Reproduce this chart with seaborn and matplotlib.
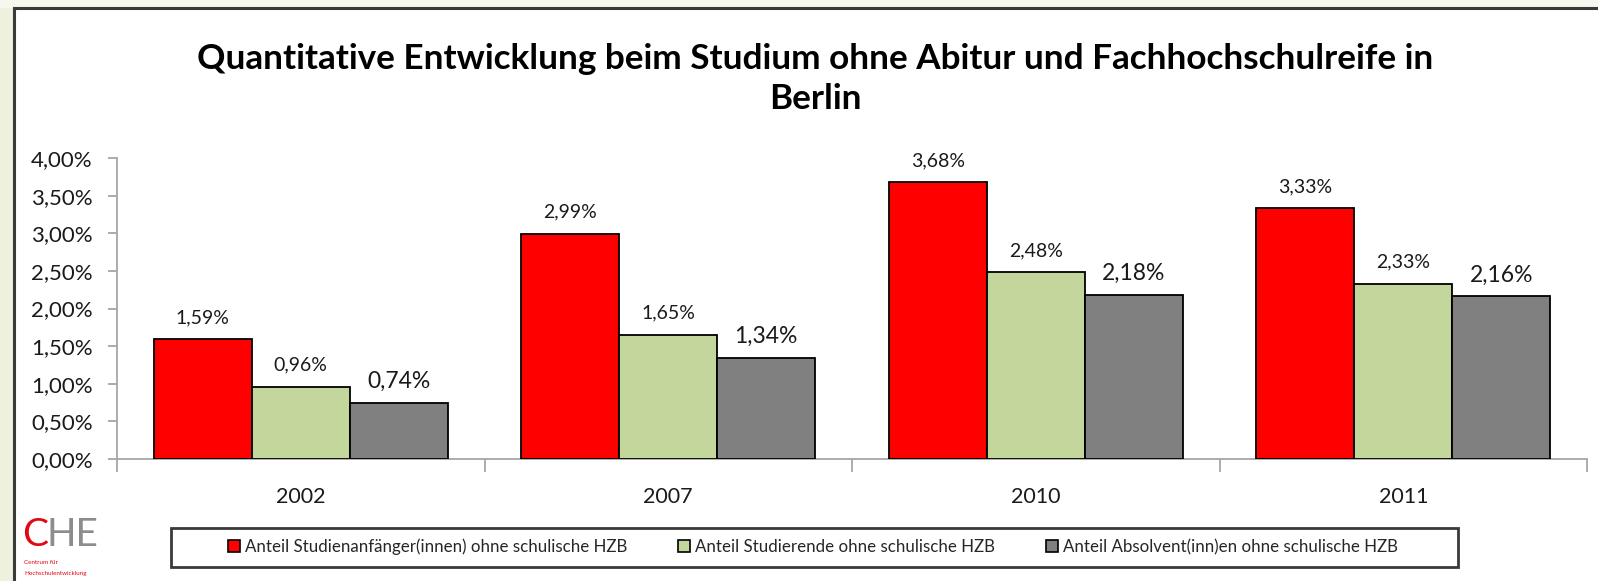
import matplotlib
matplotlib.use("Agg")
import matplotlib.pyplot as plt
import matplotlib.patches as mpatches
from matplotlib.ticker import FuncFormatter, MultipleLocator, FixedLocator
import seaborn as sns
import pandas as pd

# ---- data ----
years = ["2002", "2007", "2010", "2011"]
series = [
    "Anteil Studienanfänger(innen) ohne schulische HZB",
    "Anteil Studierende ohne schulische HZB",
    "Anteil Absolvent(inn)en ohne schulische HZB",
]
anfaenger = [1.59, 2.99, 3.68, 3.33]
studierende = [0.96, 1.65, 2.48, 2.33]
absolventen = [0.74, 1.34, 2.18, 2.16]
colors = ["#FF0000", "#C3D69B", "#808080"]
title = "Quantitative Entwicklung beim Studium ohne Abitur und Fachhochschulreife in\nBerlin"

df = pd.DataFrame({
    "Jahr": years * 3,
    "Serie": [series[0]] * 4 + [series[1]] * 4 + [series[2]] * 4,
    "Wert": anfaenger + studierende + absolventen,
})

sns.set_theme(style="white")
plt.rcParams["font.family"] = ["Lato", "DejaVu Sans"]

W, H = 1598, 581
fig = plt.figure(figsize=(W / 100, H / 100), dpi=100)
fig.patch.set_facecolor("#EEF1DE")

# top light strip and white chart area with frame
fig.add_artist(mpatches.Rectangle((0, 1 - 8 / H), 1, 8 / H, transform=fig.transFigure,
                                  facecolor="#F6F7EE", edgecolor="none", zorder=0))
fig.add_artist(mpatches.Rectangle((14 / W, -0.01), 1.01, 1 - 8 / H + 0.01, transform=fig.transFigure,
                                  facecolor="white", edgecolor="#3A3A3A", linewidth=2.2, zorder=0))

ax = fig.add_axes([117 / W, 1 - 459 / H, (1587 - 117) / W, (459 - 158) / H])
ax.set_facecolor("none")

sns.barplot(data=df, x="Jahr", y="Wert", hue="Serie", hue_order=series, order=years,
            palette=colors, edgecolor="black", linewidth=1.3, saturation=1,
            width=0.8, gap=0, ax=ax, zorder=3)

handles, labels = ax.get_legend_handles_labels()
if ax.get_legend() is not None:
    ax.get_legend().remove()

ax.set_ylim(0, 4)
ax.set_xlim(-0.5, len(years) - 0.5)
ax.yaxis.set_major_locator(MultipleLocator(0.5))
ax.yaxis.set_major_formatter(FuncFormatter(lambda v, p: f"{v:.2f}%".replace(".", ",")))
ax.set_xlabel("")
ax.set_ylabel("")

for s in ["top", "right"]:
    ax.spines[s].set_visible(False)
for s in ["left", "bottom"]:
    ax.spines[s].set_color("#A6A6A6")
    ax.spines[s].set_linewidth(1.3)

ax.tick_params(axis="y", which="major", left=True, length=6.5, width=1.3, color="#A6A6A6",
               direction="out", pad=11, labelsize=16, labelcolor="#1A1A1A")
ax.tick_params(axis="x", which="major", bottom=False, length=0, pad=20, labelsize=15.5,
               labelcolor="#1A1A1A")
ax.xaxis.set_minor_locator(FixedLocator([i - 0.5 for i in range(len(years) + 1)]))
ax.tick_params(axis="x", which="minor", bottom=True, length=9, width=1.3, color="#A6A6A6",
               direction="out")

# value labels
sizes = [14, 14, 16.5]
for cont, vals, fs in zip(ax.containers, [anfaenger, studierende, absolventen], sizes):
    ax.bar_label(cont, labels=[f"{v:.2f}%".replace(".", ",") for v in vals],
                 padding=9.5 if fs == 14 else 8, fontsize=fs, color="#1A1A1A")

# title
fig.text(815 / W, 1 - 79 / H, title, ha="center", va="center", fontsize=25.3,
         fontweight="bold", color="black", linespacing=1.33)

# legend
fig.add_artist(mpatches.Rectangle((171 / W, 1 - 567 / H), (1458 - 171) / W, 39 / H,
                                  transform=fig.transFigure, facecolor="white",
                                  edgecolor="#3A3A3A", linewidth=2, zorder=1))
leg = fig.legend(handles, labels, loc="center", bbox_to_anchor=(813 / W, 1 - 547 / H),
                 ncol=3, frameon=False, fontsize=12.2, handlelength=0.7, handleheight=0.7,
                 handletextpad=0.3, columnspacing=3.0)
for h in leg.legend_handles:
    h.set_edgecolor("black")
    h.set_linewidth(1.2)
leg.set_zorder(2)

# CHE logo
fig.text(22 / W, 1 - 535 / H, "C", color="#E30613", fontsize=28, ha="left", va="center")
fig.text(46 / W, 1 - 535 / H, "HE", color="#8C8C8C", fontsize=28, ha="left", va="center")
fig.text(24 / W, 1 - 562 / H, "Centrum für", color="#E30613", fontsize=4.5, ha="left", va="center")
fig.text(24 / W, 1 - 573 / H, "Hochschulentwicklung", color="#E30613", fontsize=4.5, ha="left", va="center")

fig.savefig("out.png", dpi=100, facecolor=fig.get_facecolor())
